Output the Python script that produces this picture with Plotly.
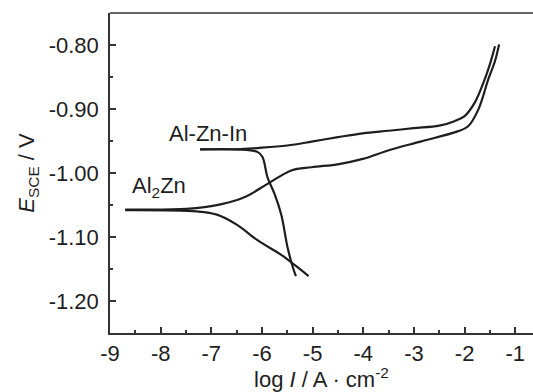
import plotly.graph_objects as go

# Al-Zn-In polarization curve (log I, E)
alzn_in_anodic_x = [-7.22, -6.49, -6.09, -5.5, -5.02, -4.5, -4.01, -3.5, -3.01, -2.5, -2.20, -2.0, -1.80, -1.60, -1.50, -1.40]
alzn_in_anodic_y = [-0.963, -0.963, -0.961, -0.957, -0.951, -0.944, -0.938, -0.934, -0.930, -0.926, -0.919, -0.911, -0.890, -0.853, -0.830, -0.802]
alzn_in_cathodic_x = [-7.22, -6.49, -6.09, -5.99, -5.89, -5.75, -5.62, -5.49, -5.38, -5.33]
alzn_in_cathodic_y = [-0.963, -0.963, -0.967, -0.975, -1.007, -1.033, -1.065, -1.118, -1.150, -1.161]

# Al2Zn polarization curve
al2zn_anodic_x = [-8.70, -7.49, -6.82, -6.35, -5.89, -5.42, -5.02, -4.48, -4.01, -3.48, -2.87, -2.14, -1.93, -1.73, -1.53, -1.40, -1.32]
al2zn_anodic_y = [-1.057, -1.056, -1.049, -1.038, -1.017, -0.996, -0.991, -0.986, -0.978, -0.964, -0.951, -0.935, -0.927, -0.901, -0.853, -0.825, -0.799]
al2zn_cathodic_x = [-8.70, -7.29, -6.89, -6.49, -6.09, -5.62, -5.35, -5.08]
al2zn_cathodic_y = [-1.058, -1.060, -1.065, -1.081, -1.105, -1.128, -1.144, -1.161]

x_tickvals = [-9, -8, -7, -6, -5, -4, -3, -2, -1]
x_ticktext = ["-9", "-8", "-7", "-6", "-5", "-4", "-3", "-2", "-1"]
y_tickvals = [-1.2, -1.1, -1.0, -0.9, -0.8]
y_ticktext = ["-1.20", "-1.10", "-1.00", "-0.90", "-0.80"]

ink = "#1e1e1e"
line = dict(color=ink, width=2.2)
fig = go.Figure()
for xs, ys in [(alzn_in_anodic_x, alzn_in_anodic_y), (alzn_in_cathodic_x, alzn_in_cathodic_y),
               (al2zn_anodic_x, al2zn_anodic_y), (al2zn_cathodic_x, al2zn_cathodic_y)]:
    fig.add_trace(go.Scatter(x=xs, y=ys, mode="lines", line=line, line_shape="spline", showlegend=False))

font_family = "Liberation Sans, Arial, sans-serif"
fig.add_annotation(x=-7.87, y=-0.938, text="Al-Zn-In", showarrow=False, xanchor="left", yanchor="middle",
                   font=dict(family=font_family, size=22, color=ink))
fig.add_annotation(x=-8.60, y=-1.022, text="Al<sub>2</sub>Zn", showarrow=False, xanchor="left", yanchor="middle",
                   font=dict(family=font_family, size=22, color=ink))

fig.update_layout(
    width=533, height=392,
    margin=dict(l=110, r=0, t=13, b=59),
    paper_bgcolor="white", plot_bgcolor="white",
    font=dict(family=font_family, size=22, color=ink),
    xaxis=dict(range=[-9, -0.65], tickvals=x_tickvals, ticktext=x_ticktext,
               ticks="inside", ticklen=6, tickwidth=1.5, tickcolor="#333",
               showline=True, linecolor="#333", linewidth=1.5, mirror=False,
               showgrid=False, zeroline=False, ticklabelstandoff=0,
               tickfont=dict(size=22),
               minor=dict(ticks="inside", ticklen=3, dtick=0.5, tickcolor="#333", tickwidth=1.5),
               title=dict(text="log <i>I</i> / A · cm<sup>-2</sup>", font=dict(size=22), standoff=8)),
    yaxis=dict(range=[-1.25, -0.75], tickvals=y_tickvals, ticktext=y_ticktext,
               ticks="inside", ticklen=6, tickwidth=1.5, tickcolor="#333",
               showline=True, linecolor="#333", linewidth=1.5, mirror=False,
               showgrid=False, zeroline=False, ticklabelstandoff=5,
               tickfont=dict(size=22),
               minor=dict(ticks="inside", ticklen=3, dtick=0.05, tickcolor="#333", tickwidth=1.5),
               title=dict(text="<i>E</i><sub>SCE</sub> / V", font=dict(size=22), standoff=8)),
)
fig.add_shape(type="line", xref="paper", yref="paper", x0=0, x1=1, y0=1, y1=1,
              line=dict(color="#333", width=1.5))

fig.write_html("out.html")
